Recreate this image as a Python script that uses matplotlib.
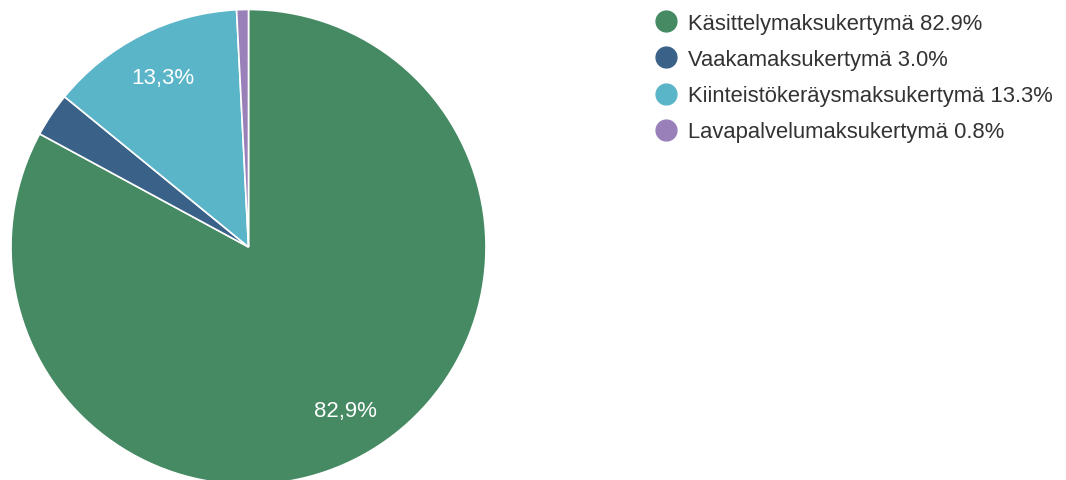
import matplotlib.pyplot as plt
from matplotlib.lines import Line2D

plt.rcParams['font.family'] = ['Liberation Sans', 'DejaVu Sans']

labels = ['Käsittelymaksukertymä', 'Vaakamaksukertymä',
          'Kiinteistökeräysmaksukertymä', 'Lavapalvelumaksukertymä']
values = [82.9, 3.0, 13.3, 0.8]
colors = ['#458a63', '#3a6187', '#5bb5c9', '#9a80b8']

W, H = 1066, 481
fig = plt.figure(figsize=(W / 100, H / 100), dpi=100)
ax = fig.add_axes([0, 0, 1, 1])


def pct_label(p):
    # only the big slices get a label, with a decimal comma
    return ('%.1f%%' % p).replace('.', ',') if p > 5 else ''


wedges, texts, autotexts = ax.pie(
    values, colors=colors, startangle=90, counterclock=False,
    center=(248.5, H - 248), radius=237.5, autopct=pct_label,
    pctdistance=0.8, wedgeprops=dict(edgecolor='white', linewidth=1.2),
    textprops=dict(color='white', fontsize=16))

ax.set_xlim(0, W)
ax.set_ylim(0, H)
ax.set_aspect('equal', adjustable='box')
ax.axis('off')

handles = [Line2D([], [], marker='o', ls='', markersize=15, color=c) for c in colors]
leg_labels = ['%s %.1f%%' % (l, v) for l, v in zip(labels, values)]
ax.legend(handles, leg_labels, loc='upper left', bbox_to_anchor=(656 / W, 1 - 14 / H),
          frameon=False, fontsize=15.8, labelcolor='#333333', handlelength=0.95,
          handletextpad=0.5, labelspacing=0.69, borderpad=0, borderaxespad=0)

fig.savefig('out.png', dpi=100)
